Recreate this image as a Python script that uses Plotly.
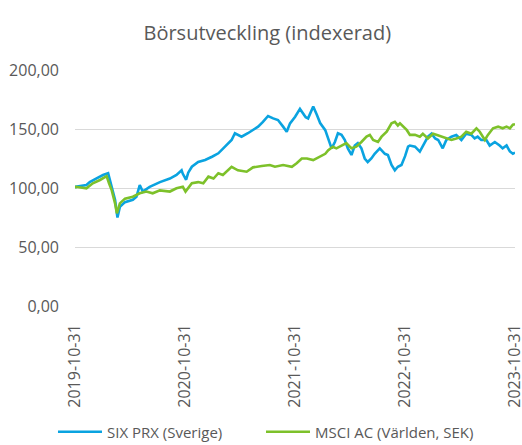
import plotly.graph_objects as go

six_dates = ["2019-10-31","2019-11-03","2019-12-08","2019-12-19","2020-01-09","2020-02-01","2020-02-18","2020-03-01","2020-03-12",
    "2020-03-20","2020-03-28","2020-04-14","2020-05-10","2020-05-22","2020-06-02","2020-06-12","2020-07-05","2020-08-08",
    "2020-09-10","2020-10-02","2020-10-19","2020-10-23","2020-11-03","2020-11-10","2020-11-22","2020-12-13","2021-01-05",
    "2021-01-28","2021-02-18","2021-03-12","2021-04-03","2021-04-14","2021-05-06","2021-05-27","2021-06-13","2021-06-30",
    "2021-07-16","2021-08-02","2021-08-19","2021-09-04","2021-09-21","2021-10-03","2021-10-14","2021-10-31","2021-11-16",
    "2021-12-05","2021-12-13","2021-12-30","2022-01-11","2022-01-22","2022-02-08","2022-02-18","2022-03-01","2022-03-12",
    "2022-03-22","2022-04-03","2022-04-14","2022-04-24","2022-05-06","2022-05-17","2022-05-27","2022-06-08","2022-06-19",
    "2022-06-29","2022-07-11","2022-07-22","2022-08-08","2022-08-25","2022-09-04","2022-09-16","2022-09-27","2022-10-07",
    "2022-10-19","2022-10-31","2022-11-10","2022-11-16","2022-12-03","2022-12-19","2022-12-29","2023-01-15","2023-01-27",
    "2023-02-08","2023-02-18","2023-03-05","2023-03-17","2023-04-03","2023-04-19","2023-05-06","2023-05-22","2023-06-08",
    "2023-06-19","2023-06-29","2023-07-11","2023-07-28","2023-08-08","2023-08-25","2023-09-10","2023-09-20","2023-10-03",
    "2023-10-14","2023-10-24","2023-10-31"]
six_values = [100, 101, 102.5, 105, 108, 111, 112.5, 101, 90,
    75, 84, 88, 90, 92.6, 102.5, 97, 101, 105,
    108, 111, 115, 112, 107, 113, 118, 122, 123.7,
    126.5, 129.4, 135, 140.7, 146.4, 143.5, 146.4, 149, 152,
    156, 161, 159, 157.6, 152, 147.7, 154.8, 160.4, 167,
    160, 159, 169, 162, 155, 149, 140.7, 133.6, 139,
    146.4, 145, 140.7, 133.6, 128, 136, 138, 133.6, 125,
    122, 125, 129, 133.6, 129, 128, 119.5, 115, 118,
    119.5, 127, 135, 136, 135, 130.8, 136, 143.5, 146,
    142, 140.7, 133.6, 140.7, 143.5, 145, 140.7, 146, 145,
    142, 143.5, 140.7, 140.7, 136, 139, 136, 133.6, 136,
    131, 129, 130]

msci_dates = ["2019-10-31","2019-11-03","2019-12-08","2019-12-29","2020-01-22","2020-02-01","2020-02-13","2020-02-21","2020-03-01",
    "2020-03-12","2020-03-18","2020-03-28","2020-04-14","2020-05-10","2020-06-02","2020-06-24","2020-07-15","2020-08-08",
    "2020-09-10","2020-10-02","2020-10-23","2020-11-01","2020-11-14","2020-11-22","2020-12-13","2020-12-30","2021-01-16",
    "2021-02-02","2021-02-18","2021-03-05","2021-04-03","2021-04-24","2021-05-23","2021-06-13","2021-07-12","2021-08-08",
    "2021-08-25","2021-09-21","2021-10-20","2021-11-05","2021-11-22","2021-12-09","2021-12-30","2022-01-22","2022-02-08",
    "2022-02-18","2022-03-05","2022-03-17","2022-04-03","2022-04-19","2022-05-06","2022-05-22","2022-06-08","2022-06-25",
    "2022-07-06","2022-07-17","2022-08-02","2022-08-14","2022-08-31","2022-09-16","2022-09-27","2022-10-07","2022-10-14",
    "2022-10-24","2022-11-06","2022-11-16","2022-12-03","2022-12-19","2022-12-29","2023-01-15","2023-02-01","2023-02-14",
    "2023-03-01","2023-03-17","2023-04-03","2023-04-19","2023-05-06","2023-05-22","2023-06-08","2023-06-25","2023-07-06",
    "2023-07-23","2023-08-02","2023-08-19","2023-09-05","2023-09-20","2023-10-03","2023-10-14","2023-10-24","2023-10-31"]
msci_values = [100, 101, 99.7, 104, 106.8, 108, 110, 104, 98,
    87, 78.5, 87, 91, 92.6, 95.5, 97, 95.5, 98,
    97, 99.7, 101, 97, 102, 104, 105, 104, 109.6,
    108, 112.5, 111, 118, 115, 113.8, 117.5, 118.6, 119.5,
    118, 119.5, 118, 121, 125, 125, 123.7, 126.5, 129,
    132, 135, 133.6, 136, 138, 133.6, 135, 139, 143.5,
    145, 140.7, 139, 143.5, 147.7, 154.8, 156, 153, 154.8,
    152, 149, 145, 145, 143.5, 146, 142, 146, 145,
    143.5, 142, 140.7, 142, 143.5, 147.7, 146, 150.6, 147.7,
    140.7, 145, 150.6, 152, 150.6, 152, 150.6, 153.6, 154]

tick_dates = ["2019-10-31", "2020-10-31", "2021-10-31", "2022-10-31", "2023-10-31"]
y_ticks = [0, 50, 100, 150, 200]

FONT = "Open Sans"
GRAY = "#595959"

fig = go.Figure()
fig.add_trace(go.Scatter(x=six_dates, y=six_values, mode="lines", name="SIX PRX (Sverige)",
                         line=dict(color="#0AA3E0", width=2.6), legend="legend"))
fig.add_trace(go.Scatter(x=msci_dates, y=msci_values, mode="lines", name="MSCI AC (Världen, SEK)",
                         line=dict(color="#7DC12A", width=2.6), legend="legend2"))

legend_common = dict(orientation="h", xref="container", yref="container", xanchor="left",
                     y=1 - 432 / 445, yanchor="middle", itemwidth=44,
                     font=dict(family=FONT, size=15, color=GRAY), bgcolor="rgba(0,0,0,0)")

fig.update_layout(
    width=522, height=445,
    margin=dict(l=75, r=7, t=70, b=139),
    paper_bgcolor="white", plot_bgcolor="white",
    separators=", ",
    font=dict(family=FONT, color=GRAY, size=16),
    title=dict(text="Börsutveckling (indexerad)", x=0.512, xanchor="center", y=0.925, yanchor="middle",
               font=dict(family=FONT, size=20, color=GRAY)),
    showlegend=True,
    legend=dict(x=0.1015, **legend_common),
    legend2=dict(x=0.5, **legend_common),
    xaxis=dict(type="date", range=["2019-10-31", "2023-10-31"], tickvals=tick_dates, ticktext=tick_dates,
               tickangle=-90, showgrid=False, zeroline=False, showline=False, ticks="",
               ticklabeloverflow="allow", ticklabelstandoff=14, automargin=False,
               tickfont=dict(family=FONT, size=16, color=GRAY)),
    yaxis=dict(range=[0, 200], tickvals=y_ticks, tickformat=".2f", showgrid=True, gridcolor="#D9D9D9",
               gridwidth=1, zeroline=False, showline=False, ticks="", ticklabelstandoff=15, automargin=False,
               tickfont=dict(family=FONT, size=16, color=GRAY)),
)

fig.write_html("out.html", config={"displayModeBar": False},
               post_script="document.body.style.margin='0';document.body.style.overflow='hidden';")
